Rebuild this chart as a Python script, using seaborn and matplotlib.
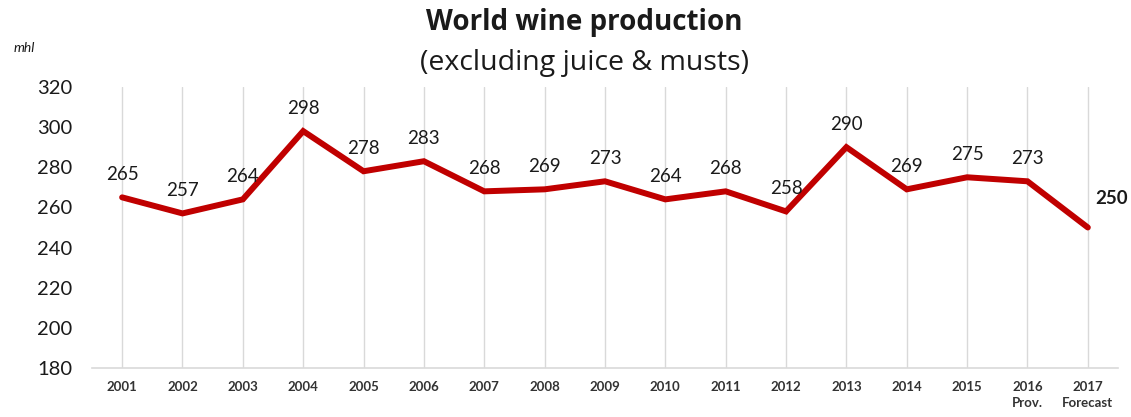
import matplotlib
matplotlib.use("Agg")
import matplotlib.pyplot as plt
import seaborn as sns
import pandas as pd

years = ["2001", "2002", "2003", "2004", "2005", "2006", "2007", "2008", "2009",
         "2010", "2011", "2012", "2013", "2014", "2015", "2016", "2017"]
tick_labels = ["2001", "2002", "2003", "2004", "2005", "2006", "2007", "2008", "2009",
               "2010", "2011", "2012", "2013", "2014", "2015", "2016\nProv.", "2017\nForecast"]
production = [265, 257, 264, 298, 278, 283, 268, 269, 273, 264, 268, 258, 290, 269, 275, 273, 250]
y_ticks = [180, 200, 220, 240, 260, 280, 300, 320]

sns.set_theme(style="white")
plt.rcParams['font.family'] = ['Lato', 'DejaVu Sans']

df = pd.DataFrame({"pos": list(range(len(years))), "value": production})

fig = plt.figure(figsize=(11.31, 4.17), dpi=100)
ax = fig.add_axes([0.0813, 0.1175, 0.9072, 0.674])

for i in range(len(years)):
    ax.axvline(i, color="#d9d9d9", lw=1, zorder=0)

sns.lineplot(data=df, x="pos", y="value", ax=ax, color="#C00000", lw=4.3,
             zorder=3, solid_capstyle="round", solid_joinstyle="miter")

ax.set_xlim(-0.5, len(years) - 0.5)
ax.set_ylim(180, 320)
ax.set_yticks(y_ticks)
ax.set_yticklabels([str(t) for t in y_ticks], fontsize=14.5, color="#1a1a1a")
ax.set_xticks(range(len(years)))
ax.set_xticklabels(tick_labels, fontsize=9.5, fontweight="bold", color="#333333",
                   linespacing=1.45)
ax.tick_params(axis="both", length=0)
ax.tick_params(axis="y", pad=14)
ax.tick_params(axis="x", pad=9)
ax.set_xlabel("")
ax.set_ylabel("")
for s in ["top", "right", "left"]:
    ax.spines[s].set_visible(False)
ax.spines["bottom"].set_color("#d9d9d9")
ax.spines["bottom"].set_linewidth(1.2)

for i, v in enumerate(production):
    if i == len(production) - 1:
        ax.annotate(str(v), (i, v), xytext=(5, 15), textcoords="offset points",
                    ha="left", va="bottom", fontsize=13.5, fontweight="bold", color="#1a1a1a")
    else:
        ax.annotate(str(v), (i, v), xytext=(0, 10.5), textcoords="offset points",
                    ha="center", va="bottom", fontsize=13.5, color="#1a1a1a")

fig.text(0.517, 0.945, "World wine production", ha="center", va="center",
         fontsize=20, fontweight="bold", color="#1a1a1a", family="Open Sans")
fig.text(0.517, 0.85, "(excluding juice & musts)", ha="center", va="center",
         fontsize=20.5, color="#1a1a1a", family="Open Sans")
fig.text(0.012, 0.885, "mhl", ha="left", va="center", fontsize=10,
         style="italic", color="#1a1a1a")

fig.savefig("out.png", dpi=100)
